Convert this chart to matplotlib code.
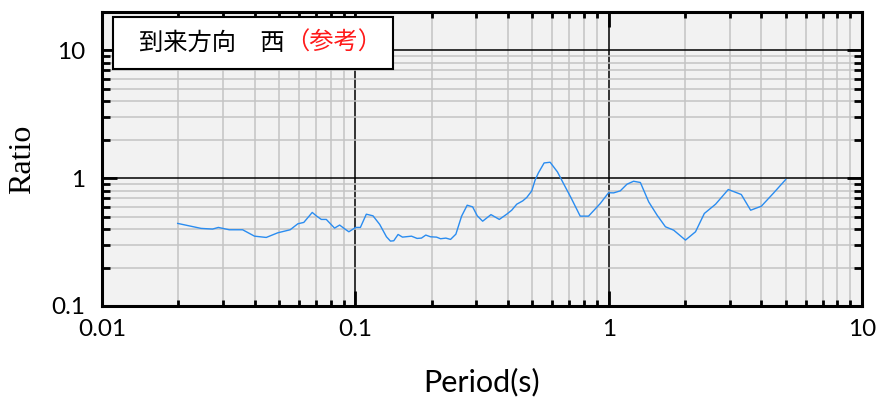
import matplotlib
matplotlib.use("Agg")
import matplotlib.pyplot as plt
from matplotlib.ticker import LogLocator, NullFormatter, FixedLocator, FixedFormatter
from matplotlib.patches import Rectangle

period = [0.0199, 0.0246, 0.0273, 0.0288, 0.0318, 0.0359, 0.0400, 0.0445, 0.0494, 0.0553,
          0.0593, 0.0626, 0.0676, 0.0701, 0.0734, 0.0768, 0.0828, 0.0867, 0.0915, 0.0943,
          0.1003, 0.1047, 0.1105, 0.1174, 0.1248, 0.1327, 0.1376, 0.1418, 0.1475, 0.1535,
          0.1666, 0.1753, 0.1824, 0.1897, 0.1981, 0.2092, 0.2170, 0.2277, 0.2376, 0.2494,
          0.2627, 0.2764, 0.2904, 0.3029, 0.3181, 0.3431, 0.3701, 0.3959, 0.4143, 0.4336,
          0.4580, 0.4750, 0.4971, 0.5122, 0.5279, 0.5561, 0.5873, 0.6279, 0.6632, 0.7093,
          0.7720, 0.8328, 0.9264, 0.999, 1.046, 1.111, 1.181, 1.254, 1.334, 1.439,
          1.553, 1.675, 1.806, 2.010, 2.202, 2.386, 2.642, 2.966, 3.338, 3.634,
          4.006, 4.469, 4.998]
ratio = [0.443, 0.405, 0.400, 0.412, 0.395, 0.395, 0.352, 0.344, 0.374, 0.395,
         0.440, 0.451, 0.540, 0.508, 0.476, 0.476, 0.407, 0.430, 0.397, 0.381,
         0.412, 0.412, 0.523, 0.508, 0.435, 0.348, 0.322, 0.324, 0.363, 0.346,
         0.352, 0.338, 0.340, 0.359, 0.348, 0.346, 0.336, 0.340, 0.332, 0.365,
         0.505, 0.615, 0.597, 0.508, 0.461, 0.519, 0.476, 0.523, 0.562, 0.626,
         0.665, 0.707, 0.796, 0.965, 1.100, 1.317, 1.334, 1.120, 0.909, 0.707,
         0.505, 0.505, 0.634, 0.770, 0.768, 0.796, 0.898, 0.947, 0.926, 0.653,
         0.514, 0.417, 0.392, 0.328, 0.381, 0.530, 0.626, 0.816, 0.746, 0.562,
         0.604, 0.763, 0.977]

x_ticks = [0.01, 0.1, 1, 10]
x_labels = ["0.01", "0.1", "1", "10"]
y_ticks = [0.1, 1, 10]
y_labels = ["0.1", "1", "10"]
title_main = "到来方向　西"
title_note = "（参考）"

plt.rcParams['font.family'] = ['Lato', 'DejaVu Sans']

fig = plt.figure(figsize=(8.93, 4.04), dpi=100)
ax = fig.add_axes([102/893, 1-306/404, 760/893, 294/404])
ax.set_facecolor('#f2f2f2')
ax.set_xscale('log')
ax.set_yscale('log')
ax.set_xlim(0.01, 10)
ax.set_ylim(0.1, 20)

ax.xaxis.set_major_locator(FixedLocator(x_ticks))
ax.xaxis.set_major_formatter(FixedFormatter(x_labels))
ax.yaxis.set_major_locator(FixedLocator(y_ticks))
ax.yaxis.set_major_formatter(FixedFormatter(y_labels))
ax.xaxis.set_minor_locator(LogLocator(base=10, subs=range(2, 10)))
ax.yaxis.set_minor_locator(LogLocator(base=10, subs=range(2, 10)))
ax.xaxis.set_minor_formatter(NullFormatter())
ax.yaxis.set_minor_formatter(NullFormatter())

ax.grid(True, which='minor', color='#c4c4c4', linewidth=1.1, zorder=0)
ax.grid(True, which='major', color='black', linewidth=1.1, zorder=1)
ax.set_axisbelow(True)

ax.tick_params(which='both', direction='in', top=True, right=True, width=2, colors='black',
               labelsize=17.5)
ax.tick_params(axis='y', which='major', length=11, pad=12)
ax.tick_params(axis='x', which='major', length=11, pad=9)
ax.tick_params(axis='y', which='minor', length=6)
ax.tick_params(axis='x', which='minor', length=4)

for s in ax.spines.values():
    s.set_linewidth(2.2)

ax.plot(period, ratio, color='#2a8cf0', linewidth=1.0, zorder=3)

ax.set_xlabel("Period(s)", fontsize=22, labelpad=20)
ax.set_ylabel("Ratio", fontsize=23, family=['Liberation Serif', 'DejaVu Serif'], labelpad=10)

ax.add_patch(Rectangle((0.0145, 0.806), 0.369, 0.177, transform=ax.transAxes,
                       facecolor='white', edgecolor='black', linewidth=1.5, zorder=5))
t1 = ax.text(0.049, 0.894, title_main, transform=ax.transAxes, fontsize=17.5,
             family=['Noto Sans CJK JP', 'DejaVu Sans'], color='black', va='center', ha='left', zorder=6)
ax.annotate(title_note, xy=(1, 0.5), xycoords=t1, xytext=(0, 0), textcoords='offset points',
            fontsize=17.5, family=['Noto Sans CJK JP', 'DejaVu Sans'], color='#ff1a1a',
            va='center', ha='left', zorder=6)

fig.savefig("out.png", dpi=100)
